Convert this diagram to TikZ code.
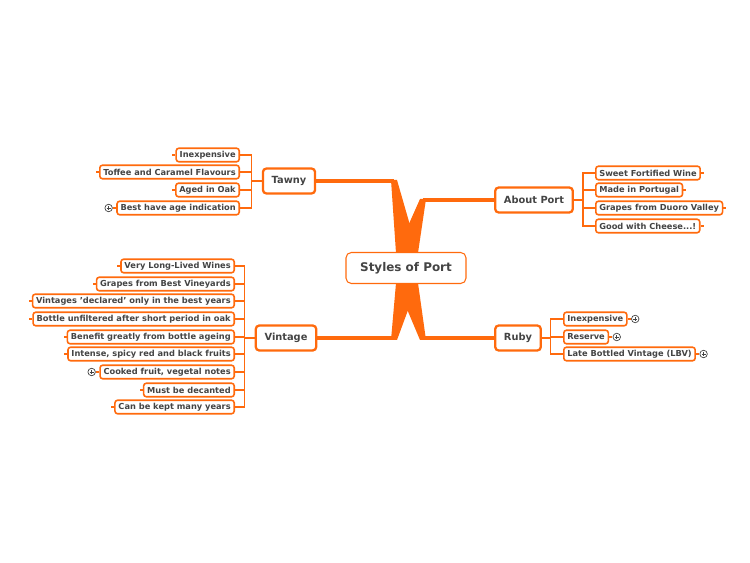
\documentclass[tikz,border=0pt]{standalone}
\usepackage{fontspec}
\setmainfont{DejaVu Sans}
\usetikzlibrary{positioning}
\definecolor{portorange}{HTML}{FF6A0D}
\definecolor{porttext}{HTML}{444444}
\tikzset{
  main/.style={
    rectangle, rounded corners=2pt,
    draw=portorange, line width=1.3pt, fill=white,
    text=porttext, font=\bfseries\fontsize{5.6}{6}\selectfont,
    minimum height=0.5cm, inner xsep=5pt},
  centre/.style={
    rectangle, rounded corners=3pt,
    draw=portorange, line width=0.6pt, fill=white,
    text=porttext, font=\bfseries\fontsize{6.8}{8}\selectfont,
    minimum width=2.4cm, minimum height=0.62cm},
  leaf/.style={
    rectangle, rounded corners=1.5pt,
    draw=portorange, line width=0.9pt, fill=white,
    text=porttext, font=\bfseries\fontsize{4.7}{5}\selectfont,
    minimum height=0.27cm, inner xsep=2pt, inner ysep=1pt},
  twig/.style={draw=portorange, line width=0.6pt},
  branch/.style={draw=portorange, line width=2.6pt},
  wedge/.style={fill=portorange},
  plus/.style={circle, draw=porttext, line width=0.4pt, fill=white,
    inner sep=0pt, minimum size=0.15cm,
    path picture={\draw[porttext,line width=0.4pt]
      (path picture bounding box.west) ++(1pt,0) -- ++(2.3pt,0)
      (path picture bounding box.north) ++(0,-1pt) -- ++(0,-2.3pt);}},
}
\begin{document}
\begin{tikzpicture}[x=0.02cm,y=-0.02cm]
\useasboundingbox (0,0) rectangle (750,563);
% wedges meeting under the centre
\fill[wedge] (391,180) -- (397,180) -- (418,253) -- (396,253) -- cycle;
\fill[wedge] (420,199) -- (426,199) -- (418,253) -- (396,253) -- cycle;
\fill[wedge] (391,340) -- (397,340) -- (418,283) -- (396,283) -- cycle;
\fill[wedge] (420,340) -- (426,340) -- (418,283) -- (396,283) -- cycle;
\node[centre] (port) at (406,268) {Styles of Port};
\node[main] (tawny) at (289,181) {Tawny};
\node[main] (about) at (534,200) {About Port};
\node[main] (vintage) at (286,338) {Vintage};
\node[main] (ruby) at (518,338) {Ruby};
\draw[branch] (tawny.east) -- (394,181);
\draw[branch] (about.west) -- (423,200);
\draw[branch] (vintage.east) -- (394,338);
\draw[branch] (ruby.west) -- (423,338);
% bracket points
\draw[twig] (tawny.west) -- ++(-10,0) coordinate (tb);
\draw[twig] (vintage.west) -- ++(-10,0) coordinate (vb);
\draw[twig] (about.east) -- ++(9,0) coordinate (ab);
\draw[twig] (ruby.east) -- ++(9,0) coordinate (rb);
% Tawny
\foreach \n/\y/\A in {t1/155/Inexpensive, t2/172/Toffee and Caramel Flavours,
    t3/190/Aged in Oak, t4/208/Best have age indication}{
  \node[leaf, anchor=east] (\n) at (240,\y) {\A};
  \draw[twig] (\n.east) -| (tb);
  \draw[twig] (\n.west) -- ++(-3,0);
}
% Vintage
\foreach \n/\y/\A in {v1/266/Very Long-Lived Wines, v2/284/Grapes from Best Vineyards,
    v3/301/Vintages 'declared' only in the best years,
    v4/319/Bottle unfiltered after short period in oak,
    v5/337/Benefit greatly from bottle ageing,
    v6/354/{Intense, spicy red and black fruits},
    v7/372/{Cooked fruit, vegetal notes}, v8/390/Must be decanted,
    v9/407/Can be kept many years}{
  \node[leaf, anchor=east] (\n) at (235,\y) {\A};
  \draw[twig] (\n.east) -| (vb);
  \draw[twig] (\n.west) -- ++(-3,0);
}
% About Port
\foreach \n/\y/\A in {a1/173/Sweet Fortified Wine, a2/190/Made in Portugal,
    a3/208/Grapes from Duoro Valley, a4/226/{Good with Cheese...!}}{
  \node[leaf, anchor=west] (\n) at (595,\y) {\A};
  \draw[twig] (\n.west) -| (ab);
  \draw[twig] (\n.east) -- ++(3,0);
}
% Ruby
\foreach \n/\y/\A in {r1/319/Inexpensive, r2/337/Reserve,
    r3/354/Late Bottled Vintage (LBV)}{
  \node[leaf, anchor=west] (\n) at (563,\y) {\A};
  \draw[twig] (\n.west) -| (rb);
  \draw[twig] (\n.east) -- ++(3,0);
}
\node[plus, left=2pt of t4] (pt4) {};
\node[plus, left=2pt of v7] (pv7) {};
\node[plus, right=2pt of r1] (pr1) {};
\node[plus, right=2pt of r2] (pr2) {};
\node[plus, right=2pt of r3] (pr3) {};
\end{tikzpicture}
\end{document}
